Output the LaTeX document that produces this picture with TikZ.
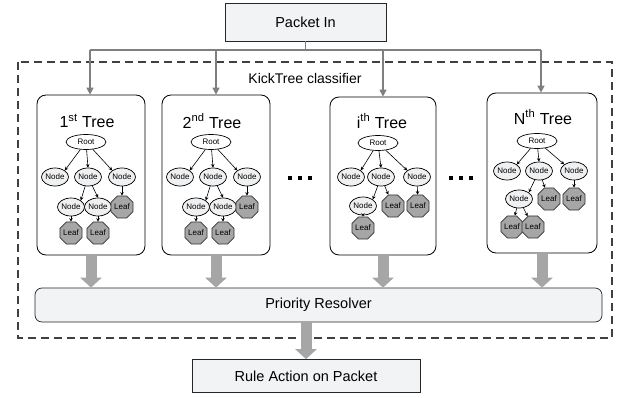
\documentclass[tikz,border=0pt]{standalone}
\usepackage{fontspec}
\setmainfont{Liberation Sans}
\usetikzlibrary{arrows.meta,shapes.geometric}
\definecolor{boxfill}{HTML}{F2F3F5}
\definecolor{feed}{HTML}{7F7F7F}
\definecolor{fat}{HTML}{A6A6A6}
\definecolor{leaffill}{HTML}{A6A6A6}
\definecolor{nodefill}{HTML}{EFF0F2}
\tikzset{
  plainbox/.style={draw=black!85, fill=boxfill, line width=0.7pt, inner sep=0pt},
  treebox/.style={draw=black, fill=white, rounded corners=9pt, line width=0.8pt},
  feedline/.style={draw=feed, line width=1.5pt},
  feedarrow/.style={feedline, -{Triangle[width=7pt,length=7pt]}},
  fatarrow/.style={draw=fat, line width=11pt, -{Triangle[width=21pt,length=10pt]}},
  inner/.style={ellipse, draw=black, fill=nodefill, line width=0.7pt,
    minimum width=25pt, minimum height=18pt, inner sep=0pt, font=\fontsize{8}{9}\selectfont},
  rootnode/.style={inner, fill=white, minimum width=40pt, minimum height=15pt},
  leaf/.style={regular polygon, regular polygon sides=8, draw=black!80, fill=leaffill,
    line width=0.7pt, minimum size=21pt, inner sep=0pt, font=\fontsize{8}{9}\selectfont},
  edge/.style={draw=black, line width=0.6pt, -{Stealth[length=3.5pt,width=3.5pt]}},
  title/.style={font=\fontsize{16}{18}\selectfont},
  dot/.style={fill=black, minimum size=3.5pt, inner sep=0pt}
}
\begin{document}
\begin{tikzpicture}[x=1pt,y=-1pt]
\useasboundingbox (0,0) rectangle (623,398);

% outer classifier frame
\draw[draw=black!75, line width=1.2pt, dash pattern=on 8pt off 5pt] (18,62) rectangle (612,338);
\node[font=\fontsize{14}{16}\selectfont] (cls) at (305,78) {KickTree classifier};

% input and output boxes
\node[plainbox, minimum width=161pt, minimum height=38pt, font=\fontsize{14.5}{16}\selectfont] (in) at (305.5,22) {Packet In};
\node[plainbox, minimum width=228pt, minimum height=33pt, font=\fontsize{14.5}{16}\selectfont] (out) at (306,376) {Rule Action on Packet};
\node[plainbox, rounded corners=7pt, minimum width=567pt, minimum height=34pt, font=\fontsize{14.5}{16}\selectfont] (res) at (318.5,305) {Priority Resolver};

% tree frames
\node[treebox, minimum width=108pt, minimum height=160pt] (t1) at (91,175) {};
\node[treebox, minimum width=108pt, minimum height=160pt] (t2) at (216,175) {};
\node[treebox, minimum width=106pt, minimum height=158pt] (ti) at (383,176) {};
\node[treebox, minimum width=110pt, minimum height=160pt] (tn) at (542,173) {};

% distribution from the input
\coordinate (bus) at (305.5,50);
\coordinate (busL) at (90,50);
\coordinate (busR) at (541,50);
\draw[feedline] (in.south) -- (bus);
\draw[feedline] (busL) -- (busR);
\draw[feedarrow] (busL) -- (busL |- t1.north);
\draw[feedarrow] (bus -| t2.north) -- (t2.north);
\draw[feedarrow] (bus -| ti.north) -- (ti.north);
\draw[feedarrow] (busR) -- (busR |- tn.north);

% trees 1 and 2 share one layout
\foreach \k/\dx/\sup in {1/0/st, 2/125/nd}{
  \begin{scope}[xshift=\dx]
    \node[title] (T\k) at (87,121) {\k\textsuperscript{\sup} Tree};
    \node[rootnode] (r\k) at (86,142) {Root};
    \node[inner] (a\k) at (55,177) {Node};
    \node[inner] (b\k) at (88,177) {Node};
    \node[inner] (c\k) at (122,177) {Node};
    \node[inner] (d\k) at (71,207) {Node};
    \node[inner] (e\k) at (98,207) {Node};
    \node[leaf] (f\k) at (122,207) {Leaf};
    \node[leaf] (g\k) at (71,233) {Leaf};
    \node[leaf] (h\k) at (98,233) {Leaf};
    \draw[edge] (r\k) -- (a\k.north east);
    \draw[edge] (r\k) -- (b\k.north);
    \draw[edge] (r\k) -- (c\k.north west);
    \draw[edge] (b\k) -- (d\k.north east);
    \draw[edge] (b\k) -- (e\k.north);
    \draw[edge] (c\k) -- (f\k);
    \draw[edge] (d\k) -- (g\k);
    \draw[edge] (e\k) -- (h\k);
  \end{scope}
}

% i-th tree
\node[title] (Ti) at (382,121) {i\textsuperscript{th} Tree};
\node[rootnode] (ri) at (378,143) {Root};
\node[inner] (ai) at (351,177) {Node};
\node[inner] (bi) at (381,177) {Node};
\node[inner] (ci) at (417,177) {Node};
\node[inner] (di) at (363,206) {Node};
\node[leaf] (ei) at (393,206) {Leaf};
\node[leaf] (fi) at (418,206) {Leaf};
\node[leaf] (gi) at (363,228) {Leaf};
\draw[edge] (ri) -- (ai.north east);
\draw[edge] (ri) -- (bi.north);
\draw[edge] (ri) -- (ci.north west);
\draw[edge] (bi) -- (di.north east);
\draw[edge] (bi) -- (ei);
\draw[edge] (ci) -- (fi);
\draw[edge] (di) -- (gi);

% N-th tree
\node[title] (Tn) at (543,117) {N\textsuperscript{th} Tree};
\node[rootnode] (rn) at (537,141) {Root};
\node[inner] (an) at (507,171) {Node};
\node[inner] (bn) at (539,171) {Node};
\node[inner] (cn) at (574,171) {Node};
\node[inner] (dn) at (519,199) {Node};
\node[leaf] (en) at (549,199) {Leaf};
\node[leaf] (fn) at (574,199) {Leaf};
\node[leaf] (gn) at (512,227) {Leaf};
\node[leaf] (hn) at (533,227) {Leaf};
\draw[edge] (rn) -- (an.north east);
\draw[edge] (rn) -- (bn.north);
\draw[edge] (rn) -- (cn.north west);
\draw[edge] (bn) -- (dn.north east);
\draw[edge] (bn) -- (en);
\draw[edge] (cn) -- (fn);
\draw[edge] (dn) -- (gn);
\draw[edge] (dn) -- (hn);

% ellipsis between trees
\foreach \x [count=\j] in {290,300,310}{\node[dot] (p\j) at (\x,178) {};}
\foreach \x [count=\j] in {451,461,471}{\node[dot] (q\j) at (\x,178) {};}

% results to the resolver and onward
\draw[fatarrow] (t1.south) -- (t1.south |- res.north);
\draw[fatarrow] (t2.south) -- (t2.south |- res.north);
\draw[fatarrow] (ti.south) -- (ti.south |- res.north);
\draw[fatarrow] (tn.south) -- (tn.south |- res.north);
\draw[fatarrow] (res.south -| out.north) -- (out.north);
\end{tikzpicture}
\end{document}
